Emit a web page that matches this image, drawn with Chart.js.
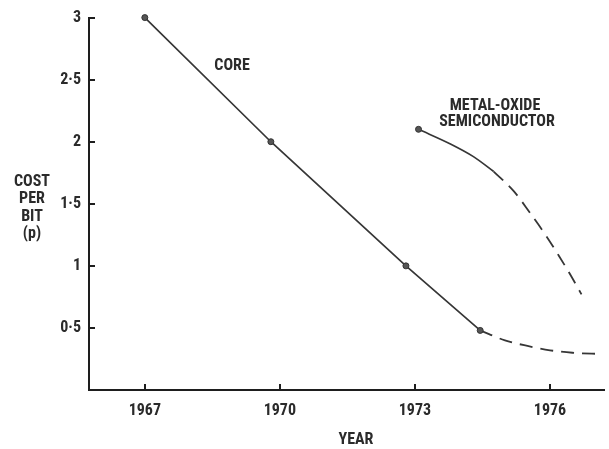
<!DOCTYPE html>
<html>
<head>
<meta charset="utf-8">
<script src="https://cdn.jsdelivr.net/npm/chart.js@4"></script>
<style>
  html, body { margin: 0; padding: 0; background: #ffffff; }
  canvas { display: block; }
</style>
</head>
<body>
<canvas id="c" width="609" height="449"></canvas>
<script>
// ---- data ----
const xTickYears = [1967, 1970, 1973, 1976];
const yTickValues = [0.5, 1, 1.5, 2, 2.5, 3];

const coreYears  = [1967, 1969.8, 1972.8, 1974.45];
const coreCost   = [3.0, 2.0, 1.0, 0.48];

const coreProjYears = [1974.45, 1975.0, 1975.5, 1976.0, 1976.5, 1977.15];
const coreProjCost  = [0.48, 0.40, 0.355, 0.32, 0.30, 0.29];

const mosYears = [1973.08, 1973.8, 1974.3, 1974.75];
const mosCost  = [2.10, 1.98, 1.88, 1.76];

const mosProjYears = [1974.75, 1975.2, 1975.55, 1975.9, 1976.2, 1976.45, 1976.7];
const mosProjCost  = [1.76, 1.60, 1.43, 1.25, 1.08, 0.93, 0.77];

const yAxisTitle = ['COST', 'PER', 'BIT', '(p)'];
const xAxisTitle = 'YEAR';
const coreLabel = 'CORE';
const mosLabel = ['METAL-OXIDE', 'SEMICONDUCTOR'];

// ---- helpers ----
const pts = (xs, ys) => xs.map((x, i) => ({ x: x, y: ys[i] }));
const FAMILY = 'Roboto, "DejaVu Sans Condensed", sans-serif';
const WEIGHT = 'condensed bold';
const INK = '#2b2b2b';
const LINE = '#363636';

const overlay = {
  id: 'overlay',
  afterDraw(chart) {
    const ctx = chart.ctx;
    const xs = chart.scales.x, ys = chart.scales.y;
    const area = chart.chartArea;
    ctx.save();
    // inward tick marks
    ctx.strokeStyle = '#1e1e1e';
    ctx.lineWidth = 2;
    ctx.beginPath();
    yTickValues.forEach(v => {
      const py = Math.round(ys.getPixelForValue(v));
      ctx.moveTo(area.left, py);
      ctx.lineTo(area.left + 6, py);
    });
    xTickYears.forEach(v => {
      const px = Math.round(xs.getPixelForValue(v));
      ctx.moveTo(px, area.bottom);
      ctx.lineTo(px, area.bottom - 6);
    });
    ctx.stroke();

    // texts
    ctx.fillStyle = INK;
    ctx.font = WEIGHT + ' 16px ' + FAMILY;
    ctx.textAlign = 'center';
    ctx.textBaseline = 'middle';
    yAxisTitle.forEach((t, i) => ctx.fillText(t, 32, 182 + i * 17.3));
    ctx.fillText(xAxisTitle, 356, 440);
    ctx.fillText(coreLabel, 232, 66);
    ctx.fillText(mosLabel[0], 495, 106);
    ctx.fillText(mosLabel[1], 497, 122);
    ctx.restore();
  }
};

new Chart(document.getElementById('c'), {
  type: 'scatter',
  data: {
    datasets: [
      {
        label: 'Core',
        data: pts(coreYears, coreCost),
        showLine: true,
        clip: false,
        borderColor: LINE,
        borderWidth: 1.7,
        pointRadius: 3,
        pointBackgroundColor: '#555',
        pointBorderColor: '#333',
        pointBorderWidth: 1
      },
      {
        label: 'Core (projected)',
        data: pts(coreProjYears, coreProjCost),
        showLine: true,
        clip: false,
        borderColor: LINE,
        borderWidth: 1.8,
        borderDash: [13, 8],
        cubicInterpolationMode: 'monotone',
        pointRadius: 0
      },
      {
        label: 'MOS',
        data: pts(mosYears, mosCost),
        showLine: true,
        clip: false,
        borderColor: LINE,
        borderWidth: 1.7,
        cubicInterpolationMode: 'monotone',
        pointRadius: [3, 0, 0, 0],
        pointBackgroundColor: '#555',
        pointBorderColor: '#333',
        pointBorderWidth: 1
      },
      {
        label: 'MOS (projected)',
        data: pts(mosProjYears, mosProjCost),
        showLine: true,
        clip: false,
        borderColor: LINE,
        borderWidth: 1.8,
        borderDash: [13, 8],
        cubicInterpolationMode: 'monotone',
        pointRadius: 0
      }
    ]
  },
  options: {
    responsive: false,
    animation: false,
    devicePixelRatio: 1,
    layout: { padding: { top: 15, right: 4, bottom: 0, left: 0 } },
    plugins: {
      legend: { display: false },
      tooltip: { enabled: false }
    },
    scales: {
      x: {
        type: 'linear',
        min: 1965.76,
        max: 1977.2,
        afterBuildTicks: s => { s.ticks = xTickYears.map(v => ({ value: v })); },
        afterFit: s => { s.height = 59; },
        grid: { display: false, drawTicks: false },
        border: { display: true, color: '#1e1e1e', width: 2 },
        ticks: {
          color: INK,
          padding: 11,
          autoSkip: false,
          maxRotation: 0,
          font: { family: FAMILY, size: 16, weight: WEIGHT },
          callback: v => String(v)
        }
      },
      y: {
        type: 'linear',
        min: 0,
        max: 3,
        afterBuildTicks: s => { s.ticks = yTickValues.map(v => ({ value: v })); },
        afterFit: s => { s.width = 89; },
        grid: { display: false, drawTicks: false },
        border: { display: true, color: '#1e1e1e', width: 2 },
        ticks: {
          color: INK,
          padding: 8,
          autoSkip: false,
          font: { family: FAMILY, size: 16, weight: WEIGHT },
          callback: v => String(v).replace('.', '\u00B7')
        }
      }
    }
  },
  plugins: [overlay]
});
</script>
</body>
</html>
